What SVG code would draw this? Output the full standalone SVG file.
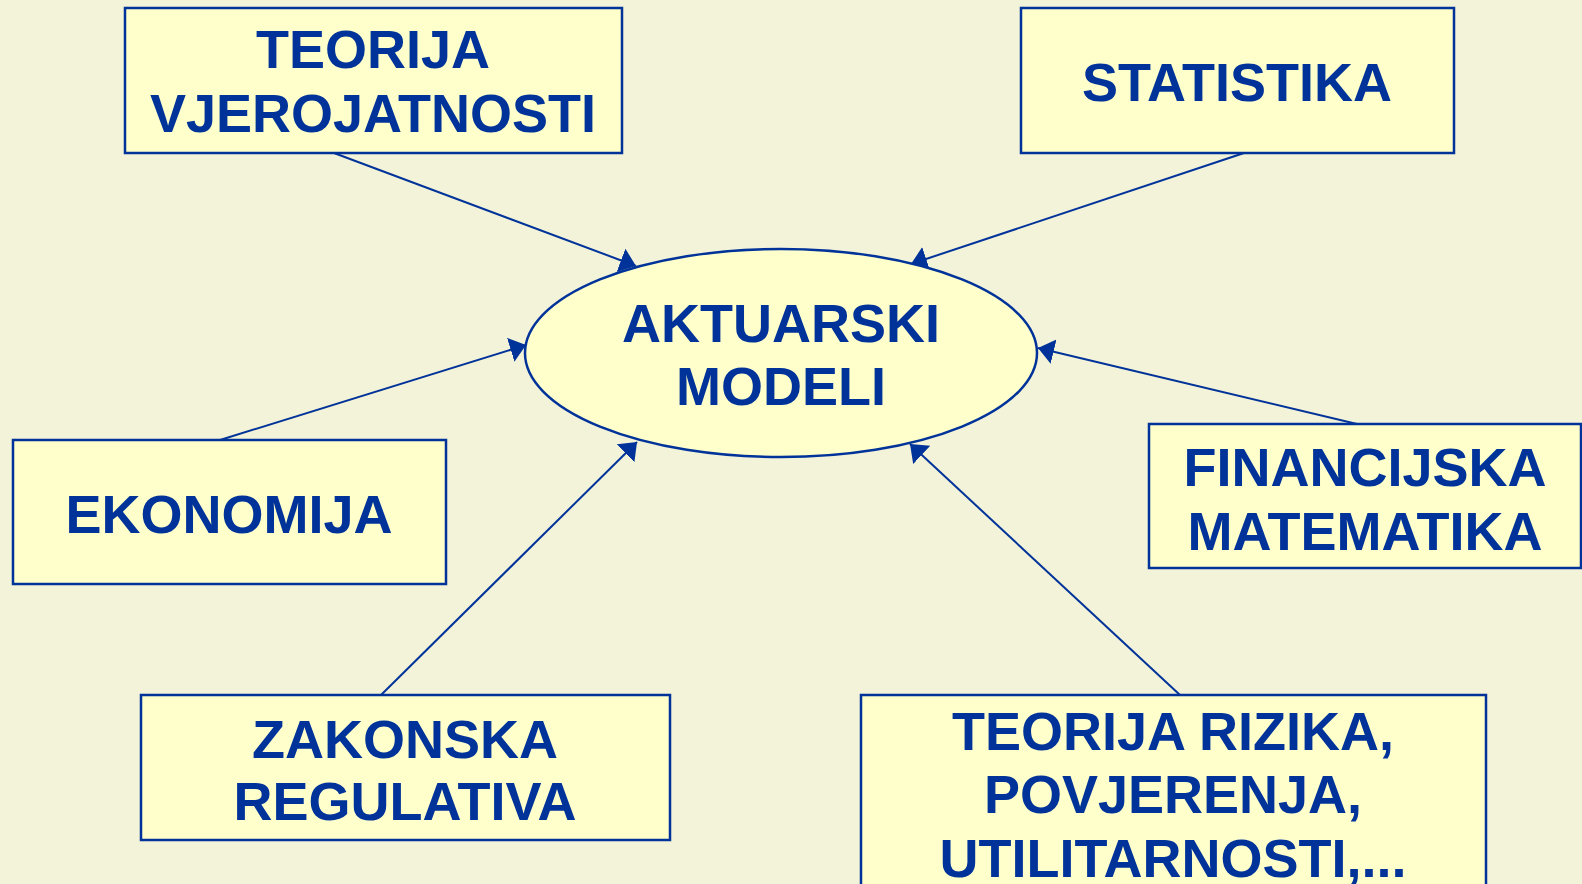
<svg xmlns="http://www.w3.org/2000/svg" width="1582" height="884" viewBox="0 0 1582 884">
  <defs>
    <style>
      .box { fill: #FFFFCC; stroke: #003399; stroke-width: 2.5; }
      .lbl { font-family: "Liberation Sans", Arial, sans-serif; font-weight: bold; font-size: 54px; fill: #003399; text-anchor: middle; }
      .edge { stroke: #003399; stroke-width: 2; fill: none; marker-end: url(#arrow); }
    </style>
    <marker id="arrow" markerUnits="userSpaceOnUse" markerWidth="20" markerHeight="28" refX="16" refY="12.5" orient="auto">
      <path d="M0,0 L16,12.5 L0,25 Z" fill="#003399"/>
    </marker>
  </defs>

  <rect width="1582" height="884" fill="#F3F3DA"/>

  <!-- connectors: every source feeds the central ellipse -->
  <g id="connectors">
    <line class="edge" x1="334" y1="153" x2="636" y2="266"/>
    <line class="edge" x1="1244" y1="153" x2="911" y2="264"/>
    <line class="edge" x1="220" y1="440" x2="526" y2="345"/>
    <line class="edge" x1="1357" y1="424" x2="1038" y2="348"/>
    <line class="edge" x1="381" y1="695" x2="637" y2="442"/>
    <line class="edge" x1="1180" y1="695" x2="910" y2="444"/>
  </g>

  <g id="aktuarski-modeli">
    <ellipse class="box" cx="781" cy="353" rx="256" ry="104"/>
    <text class="lbl" x="781" y="342">AKTUARSKI</text>
    <text class="lbl" x="781" y="405">MODELI</text>
  </g>

  <g id="teorija-vjerojatnosti">
    <rect class="box" x="125" y="8" width="497" height="145"/>
    <text class="lbl" x="373" y="68">TEORIJA</text>
    <text class="lbl" x="373" y="132">VJEROJATNOSTI</text>
  </g>

  <g id="statistika">
    <rect class="box" x="1021" y="8" width="433" height="145"/>
    <text class="lbl" x="1237" y="101">STATISTIKA</text>
  </g>

  <g id="ekonomija">
    <rect class="box" x="13" y="440" width="433" height="144"/>
    <text class="lbl" x="229" y="533">EKONOMIJA</text>
  </g>

  <g id="financijska-matematika">
    <rect class="box" x="1149" y="424" width="432" height="144"/>
    <text class="lbl" x="1365" y="486">FINANCIJSKA</text>
    <text class="lbl" x="1365" y="550">MATEMATIKA</text>
  </g>

  <g id="zakonska-regulativa">
    <rect class="box" x="141" y="695" width="529" height="145"/>
    <text class="lbl" x="405" y="758">ZAKONSKA</text>
    <text class="lbl" x="405" y="820">REGULATIVA</text>
  </g>

  <g id="teorija-rizika">
    <rect class="box" x="861" y="695" width="625" height="200"/>
    <text class="lbl" x="1173" y="750">TEORIJA RIZIKA,</text>
    <text class="lbl" x="1173" y="813">POVJERENJA,</text>
    <text class="lbl" x="1173" y="877">UTILITARNOSTI,...</text>
  </g>
</svg>
